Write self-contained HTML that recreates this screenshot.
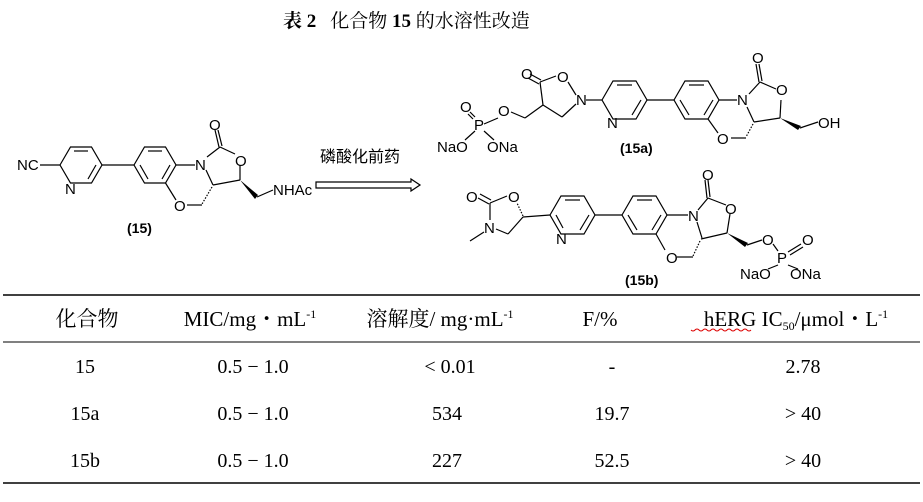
<!DOCTYPE html>
<html><head><meta charset="utf-8"><style>
body{margin:0;background:#fff;width:923px;height:502px;overflow:hidden}
svg{display:block}
.l{stroke:#000;stroke-width:1.2;fill:none}
.t{font-family:"Liberation Sans",sans-serif;font-size:15px;fill:#000}
.b{font-family:"Liberation Sans",sans-serif;font-size:14px;font-weight:bold;fill:#000}
.s{font-family:"Liberation Serif","Noto Serif CJK SC",serif;font-size:20px;fill:#000}
</style></head><body>
<svg width="923" height="502" viewBox="0 0 923 502">
<text x="283" y="27" style="font-family:'Liberation Serif','Noto Serif CJK SC',serif;font-size:19px;font-weight:bold">表 2<tspan dx="14" font-weight="normal">化合物</tspan> 15 <tspan font-weight="normal">的水溶性改造</tspan></text>

<!-- compound 15 -->
<g class="l">
<polygon points="60,165 70.5,147 91.5,147 102,165 91.5,183 70.5,183"/>
<line x1="74" y1="151" x2="88" y2="151"/><line x1="96" y1="165" x2="88" y2="179"/>
<line x1="40" y1="165" x2="60" y2="165"/>
<line x1="102" y1="165" x2="134" y2="165"/>
<polygon points="134,165 144.5,147 165.5,147 176,165 165.5,183 144.5,183"/>
<line x1="148" y1="151" x2="162" y2="151"/><line x1="170" y1="165" x2="162" y2="179"/><line x1="140" y1="165" x2="148" y2="179"/>
<line x1="176" y1="165" x2="195" y2="165"/>
<line x1="165.5" y1="183" x2="176" y2="200"/>
<line x1="187" y1="205" x2="202" y2="205"/>
<line x1="206" y1="170" x2="213" y2="185"/>
<line x1="207" y1="157" x2="220" y2="147"/>
<line x1="220" y1="147" x2="235" y2="154"/>
<line x1="219" y1="147" x2="215" y2="130"/><line x1="222" y1="146" x2="218" y2="130"/>
<line x1="240" y1="165" x2="240" y2="180"/>
<line x1="240" y1="180" x2="213" y2="185"/>
<line x1="257" y1="197" x2="273" y2="190"/>
<line x1="212" y1="187" x2="202" y2="204" stroke-dasharray="1.5 1.5"/>
</g>
<polygon points="240,180 255,199 258,195" fill="#000"/>
<text class="t" x="17" y="170">NC</text>
<text class="t" x="65" y="194">N</text>
<text class="t" x="195" y="170">N</text>
<text class="t" x="209" y="130">O</text>
<text class="t" x="235" y="166">O</text>
<text class="t" x="174" y="211">O</text>
<text class="t" x="273" y="195">NHAc</text>
<text class="b" x="127" y="233">(15)</text>

<!-- arrow -->
<text x="320" y="162" style="font-family:'Noto Sans CJK SC',sans-serif;font-size:16px">磷酸化前药</text>
<polygon class="l" points="316,182 411,182 411,179 420,185 411,191 411,188 316,188"/>

<!-- 15a -->
<g class="l">
<line x1="498" y1="118" x2="484" y2="124"/>
<line x1="511" y1="112" x2="525" y2="118"/>
<line x1="525" y1="118" x2="543" y2="105"/>
<line x1="543" y1="105" x2="540" y2="82"/>
<line x1="540" y1="82" x2="556" y2="76"/>
<line x1="568" y1="82" x2="576" y2="95"/>
<line x1="543" y1="105" x2="562" y2="117"/>
<line x1="562" y1="117" x2="576" y2="104"/>
<line x1="539" y1="84" x2="528" y2="78"/><line x1="541" y1="80" x2="530" y2="74"/>
<line x1="586" y1="100" x2="602" y2="100"/>
<polygon points="602,100 613,81 636,81 647,100 636,119 613,119"/>
<line x1="617" y1="85" x2="632" y2="85"/><line x1="641" y1="100" x2="632" y2="115"/>
<line x1="647" y1="100" x2="674" y2="100"/>
<polygon points="674,100 685,81 708,81 719,100 708,119 685,119"/>
<line x1="689" y1="85" x2="704" y2="85"/><line x1="713" y1="100" x2="704" y2="115"/><line x1="680" y1="100" x2="689" y2="115"/>
<line x1="719" y1="100" x2="737" y2="100"/>
<line x1="708" y1="119" x2="718" y2="133"/>
<line x1="731" y1="138" x2="746" y2="138"/>
<line x1="747" y1="107" x2="754" y2="122"/>
<line x1="749" y1="94" x2="760" y2="82"/>
<line x1="760" y1="82" x2="776" y2="89"/>
<line x1="759" y1="82" x2="756" y2="64"/><line x1="762" y1="81" x2="759" y2="64"/>
<line x1="781" y1="100" x2="780" y2="118"/>
<line x1="780" y1="118" x2="754" y2="122"/>
<line x1="800" y1="128" x2="818" y2="122"/>
<line x1="753" y1="124" x2="746" y2="137" stroke-dasharray="1.5 1.5"/>
<line x1="475" y1="131" x2="465" y2="140"/>
<line x1="484" y1="131" x2="494" y2="140"/>
</g>
<polygon points="780,118 798,130 801,126" fill="#000"/>
<text class="t" x="521" y="79">O</text>
<text class="t" x="557" y="82">O</text>
<text class="t" x="576" y="105">N</text>
<text class="t" x="607" y="128">N</text>
<text class="t" x="737" y="105">N</text>
<text class="t" x="752" y="63">O</text>
<text class="t" x="776" y="95">O</text>
<text class="t" x="717" y="144">O</text>
<text class="t" x="818" y="128">OH</text>
<text class="t" x="498" y="116">O</text>
<text class="t" x="474" y="130">P</text>
<text class="t" x="460" y="112">O</text>
<g class="l"><line x1="470" y1="112" x2="475" y2="117"/><line x1="468" y1="114" x2="473" y2="119"/></g>
<text class="t" x="437" y="152">NaO</text>
<text class="t" x="487" y="152">ONa</text>
<text class="b" x="620" y="153">(15a)</text>

<!-- 15b -->
<g class="l">
<line x1="490" y1="203" x2="507" y2="196"/>
<line x1="489" y1="204" x2="478" y2="198"/><line x1="491" y1="200" x2="480" y2="194"/>
<line x1="490" y1="203" x2="490" y2="220"/>
<line x1="484" y1="232" x2="470" y2="241"/>
<line x1="496" y1="229" x2="508" y2="234"/>
<line x1="508" y1="234" x2="523" y2="217"/>
<line x1="523" y1="216" x2="517" y2="203" stroke-dasharray="1.5 1.5"/>
<line x1="523" y1="217" x2="550" y2="215"/>
<polygon points="550,215 561,196 584,196 595,215 584,234 561,234"/>
<line x1="565" y1="200" x2="580" y2="200"/><line x1="589" y1="215" x2="580" y2="230"/><line x1="556" y1="215" x2="563" y2="228"/>
<line x1="595" y1="215" x2="622" y2="215"/>
<polygon points="622,215 633,196 656,196 667,215 656,234 633,234"/>
<line x1="637" y1="200" x2="652" y2="200"/><line x1="661" y1="215" x2="652" y2="230"/><line x1="628" y1="215" x2="637" y2="230"/>
<line x1="667" y1="215" x2="688" y2="215"/>
<line x1="656" y1="234" x2="665" y2="250"/>
<line x1="677" y1="257" x2="693" y2="257"/>
<line x1="697" y1="222" x2="702" y2="238"/>
<line x1="698" y1="210" x2="708" y2="198"/>
<line x1="708" y1="198" x2="726" y2="205"/>
<line x1="707" y1="198" x2="705" y2="180"/><line x1="710" y1="197" x2="708" y2="180"/>
<line x1="730" y1="214" x2="727" y2="233"/>
<line x1="727" y1="233" x2="701" y2="239"/>
<line x1="747" y1="245" x2="762" y2="240"/>
<line x1="773" y1="244" x2="778" y2="251"/>
<line x1="788" y1="252" x2="801" y2="244"/><line x1="790" y1="255" x2="803" y2="247"/>
<line x1="700" y1="241" x2="693" y2="256" stroke-dasharray="1.5 1.5"/>
<line x1="778" y1="265" x2="768" y2="269"/>
<line x1="788" y1="265" x2="798" y2="269"/>
</g>
<polygon points="727,233 745,247 748,243" fill="#000"/>
<text class="t" x="466" y="202">O</text>
<text class="t" x="508" y="202">O</text>
<text class="t" x="484" y="233">N</text>
<text class="t" x="556" y="244">N</text>
<text class="t" x="688" y="221">N</text>
<text class="t" x="702" y="180">O</text>
<text class="t" x="725" y="214">O</text>
<text class="t" x="666" y="263">O</text>
<text class="t" x="762" y="245">O</text>
<text class="t" x="777" y="263">P</text>
<text class="t" x="802" y="245">O</text>
<text class="t" x="740" y="279">NaO</text>
<text class="t" x="790" y="279">ONa</text>
<text class="b" x="625" y="285">(15b)</text>

<!-- table -->
<line x1="3" y1="295" x2="920" y2="295" stroke="#000" stroke-width="1.5"/>
<line x1="3" y1="342" x2="920" y2="342" stroke="#000" stroke-width="1"/>
<line x1="3" y1="483" x2="920" y2="483" stroke="#000" stroke-width="1.5"/>
<g class="s" text-anchor="middle">
<text x="87" y="326" font-size="21">化合物</text>
<text x="250" y="326" font-size="21">MIC/mg・mL<tspan font-size="12" dy="-8">-1</tspan></text>
<text x="440" y="326" font-size="21">溶解度/ mg·mL<tspan font-size="12" dy="-8">-1</tspan></text>
<text x="600" y="326" font-size="21">F/%</text>
<text x="796" y="326" font-size="21">hERG IC<tspan font-size="12" dy="4">50</tspan><tspan dy="-4">/μmol・L</tspan><tspan font-size="12" dy="-8">-1</tspan></text>
<text x="85" y="373">15</text><text x="253" y="373">0.5 − 1.0</text><text x="450" y="373">&lt; 0.01</text><text x="612" y="373">-</text><text x="803" y="373">2.78</text>
<text x="85" y="420">15a</text><text x="253" y="420">0.5 − 1.0</text><text x="447" y="420">534</text><text x="612" y="420">19.7</text><text x="803" y="420">&gt; 40</text>
<text x="85" y="467">15b</text><text x="253" y="467">0.5 − 1.0</text><text x="447" y="467">227</text><text x="612" y="467">52.5</text><text x="803" y="467">&gt; 40</text>
</g>
<path d="M691 330 q2 2 4 0 t4 0 t4 0 t4 0 t4 0 t4 0 t4 0 t4 0 t4 0 t4 0 t4 0 t4 0 t4 0 t4 0 t4 0" stroke="#d00" fill="none" stroke-width="1"/>
</svg>
</body></html>
